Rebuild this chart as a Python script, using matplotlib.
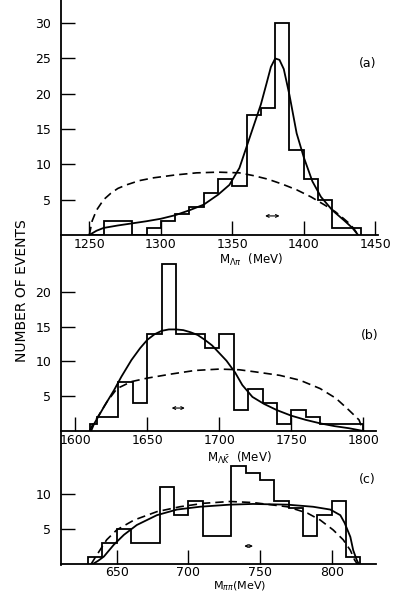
import matplotlib
matplotlib.use("Agg")
import matplotlib.pyplot as plt
from matplotlib.lines import Line2D

# histogram bins and counts
a_edges = [1250, 1260, 1270, 1280, 1290, 1300, 1310, 1320, 1330, 1340,
           1350, 1360, 1370, 1380, 1390, 1400, 1410, 1420, 1430, 1440]
a_counts = [0, 2, 2, 0, 1, 2, 3, 4, 6, 8, 7, 17, 18, 30, 12, 8, 5, 1, 1]

b_edges = [1610, 1615, 1630, 1640, 1650, 1660, 1670, 1680, 1690, 1700,
           1710, 1720, 1730, 1740, 1750, 1760, 1770, 1780, 1790, 1800]
b_counts = [1, 2, 7, 4, 14, 24, 14, 14, 12, 14, 3, 6, 4, 1, 3, 2, 1, 1, 1]

c_edges = [630, 640, 650, 660, 680, 690, 700, 710, 730, 740, 750, 760,
           770, 780, 790, 800, 810, 820]
c_counts = [1, 3, 5, 3, 11, 7, 9, 4, 14, 13, 12, 9, 8, 4, 7, 9, 1]

# fitted curves (solid) and phase space (dashed)
a_fit_x = [1250, 1255, 1260, 1270, 1280, 1290, 1300, 1310, 1320, 1330,
           1340, 1348, 1355, 1360, 1365, 1370, 1374, 1377, 1380, 1383,
           1386, 1390, 1395, 1400, 1406, 1412, 1420, 1428, 1434, 1438]
a_fit_y = [0, 0.6, 1.0, 1.35, 1.65, 1.95, 2.3, 2.8, 3.5, 4.3,
           5.7, 7.1, 9.5, 12.5, 15.5, 18.5, 21.5, 23.8, 25.0, 24.8,
           23.5, 19.8, 14.4, 11.0, 7.6, 5.4, 3.5, 2.1, 1.0, 0]
a_ps_x = [1250, 1252, 1255, 1260, 1265, 1270, 1276, 1285, 1295, 1310,
          1325, 1340, 1355, 1365, 1375, 1385, 1395, 1405, 1415, 1422,
          1428, 1432, 1435, 1438]
a_ps_y = [0, 2.0, 3.5, 5.0, 5.9, 6.6, 7.1, 7.7, 8.1, 8.5,
          8.8, 8.9, 8.8, 8.4, 7.9, 7.2, 6.4, 5.4, 4.2, 3.3,
          2.3, 1.6, 0.9, 0]

b_fit_x = [1611, 1613, 1620, 1627, 1632, 1639, 1645, 1650, 1655, 1660,
           1665, 1670, 1675, 1680, 1685, 1690, 1695, 1700, 1705, 1711,
           1716, 1723, 1731, 1740, 1750, 1760, 1770, 1780, 1790, 1800]
b_fit_y = [0, 1.0, 3.5, 5.9, 7.8, 10.2, 11.9, 13.1, 13.9, 14.4,
           14.6, 14.6, 14.5, 14.2, 13.8, 13.1, 12.3, 11.2, 10.1, 8.4,
           6.6, 4.9, 3.9, 3.0, 2.2, 1.6, 1.1, 0.7, 0.4, 0]
b_ps_x = [1610, 1612, 1615, 1622, 1629, 1639, 1650, 1667, 1683, 1700,
          1714, 1725, 1742, 1756, 1770, 1781, 1790, 1797, 1800]
b_ps_y = [0, 0.9, 1.8, 4.2, 6.1, 7.1, 7.6, 8.2, 8.7, 8.9,
          8.8, 8.5, 8.0, 7.3, 6.1, 4.7, 3.0, 1.6, 0]

c_fit_x = [633, 637, 641, 648, 655, 664, 678, 692, 708, 729,
           745, 769, 787, 799, 806, 809, 813, 815, 817.5, 819]
c_fit_y = [0, 0.5, 1.1, 2.8, 4.2, 5.6, 7.0, 7.8, 8.2, 8.5,
           8.6, 8.5, 8.2, 7.8, 7.0, 5.9, 3.9, 2.0, 0.6, 0]
c_ps_x = [632, 636, 643, 650, 662, 678, 694, 711, 729, 745,
          769, 783, 792, 801, 808, 813, 816, 818]
c_ps_y = [0, 1.3, 3.5, 4.9, 6.3, 7.5, 8.2, 8.7, 8.95, 8.8,
          8.2, 7.3, 6.3, 4.9, 3.5, 2.0, 0.6, 0]

# resolution markers: (start, end, height)
a_res = (1371, 1385, 2.7)
b_res = (1665, 1678, 3.3)
c_res = (737, 747, 2.6)

W, H = 395, 594
fig = plt.figure(figsize=(W / 100, H / 100), dpi=100)
plt.rcParams["font.family"] = ["DejaVu Sans"]


def px_axes(left, right, top, bottom):
    return fig.add_axes([left / W, 1 - bottom / H,
                         (right - left) / W, (bottom - top) / H])


def draw_panel(ax, edges, counts, fx, fy, px, py, res,
               xlim, ylim, xticks, yticks, xpad=2):
    ax.stairs(counts, edges, color="black", linewidth=1.3)
    ax.plot(fx, fy, color="black", linewidth=1.3)
    ax.plot(px, py, color="black", linewidth=1.2,
            linestyle=(0, (5, 3)))
    ax.annotate("", xy=(res[1], res[2]), xytext=(res[0], res[2]),
                arrowprops=dict(arrowstyle="<->", lw=0.8,
                                mutation_scale=5, color="black"))
    ax.set_xlim(*xlim)
    ax.set_ylim(*ylim)
    ax.set_xticks(xticks)
    ax.set_yticks(yticks)
    ax.tick_params(direction="in", length=10, width=1.0,
                   labelsize=9, color="black")
    ax.tick_params(axis="y", pad=7)
    ax.tick_params(axis="x", pad=xpad)
    for side in ["top", "right", "left"]:
        ax.spines[side].set_visible(False)
    ax.spines["bottom"].set_linewidth(1.3)
    ax.patch.set_alpha(0)


ax_a = px_axes(61, 378, 5.5, 235)
draw_panel(ax_a, a_edges, a_counts, a_fit_x, a_fit_y, a_ps_x, a_ps_y,
           a_res, (1230.2, 1451.9), (0, 32.5),
           [1250, 1300, 1350, 1400, 1450], [5, 10, 15, 20, 25, 30])

ax_b = px_axes(61, 376, 255, 431)
draw_panel(ax_b, b_edges, b_counts, b_fit_x, b_fit_y, b_ps_x, b_ps_y,
           b_res, (1590.1, 1808.8), (0, 25.3),
           [1600, 1650, 1700, 1750, 1800], [5, 10, 15, 20])

ax_c = px_axes(61, 376, 445, 564.3)
draw_panel(ax_c, c_edges, c_counts, c_fit_x, c_fit_y, c_ps_x, c_ps_y,
           c_res, (611.1, 830.9), (0, 17),
           [650, 700, 750, 800], [5, 10], xpad=1)

# one continuous left axis line through all panels
fig.add_artist(Line2D([61 / W, 61 / W], [1.0, 1 - 565 / H],
                      transform=fig.transFigure, color="black",
                      linewidth=1.3))

fig.text(251 / W, 1 - 260 / H, r"M$_{\Lambda\pi}$  (MeV)",
         ha="center", va="center", fontsize=8.5)
fig.text(239 / W, 1 - 458 / H, r"M$_{\Lambda\bar{K}}$  (MeV)",
         ha="center", va="center", fontsize=8.5)
fig.text(240 / W, 1 - 586 / H, r"M$_{\pi\pi}$(MeV)",
         ha="center", va="center", fontsize=8)

fig.text(368 / W, 1 - 63 / H, "(a)", ha="center", va="center", fontsize=9)
fig.text(370 / W, 1 - 335 / H, "(b)", ha="center", va="center", fontsize=9)
fig.text(367 / W, 1 - 479 / H, "(c)", ha="center", va="center", fontsize=9)

fig.text(22 / W, 1 - 291 / H, "NUMBER OF EVENTS", rotation=90,
         ha="center", va="center", fontsize=10)

fig.savefig("out.png", dpi=100)
plt.close(fig)
